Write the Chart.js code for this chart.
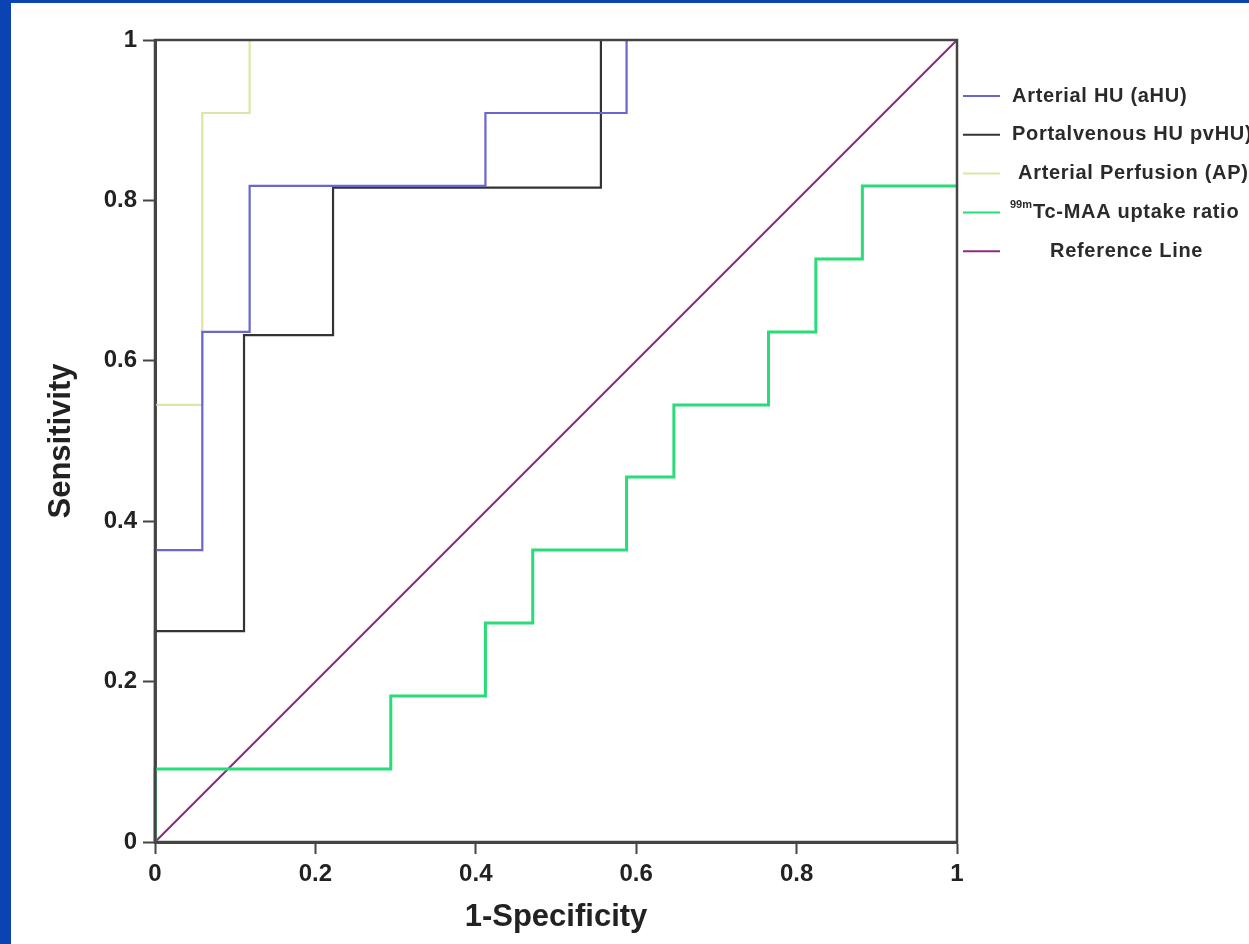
<!DOCTYPE html>
<html>
<head>
<meta charset="utf-8">
<script src="https://cdn.jsdelivr.net/npm/chart.js@4.4.1/dist/chart.umd.min.js"></script>
<style>
  html, body { margin: 0; padding: 0; background: #0b43b3; overflow: hidden; }
  #wrap { position: absolute; left: 11px; top: 3px; width: 1238px; height: 941px; background: #fff; }
</style>
</head>
<body>
<div id="wrap"><canvas id="rocChart"></canvas></div>
<script>
// tick values and labels (both axes)
const tickValues = [0, 0.2, 0.4, 0.6, 0.8, 1];
const tickLabels = ['0', '0.2', '0.4', '0.6', '0.8', '1'];

// ROC corner points: 1-specificity / sensitivity
const fprAHU = [0, 0, 0.059, 0.118, 0.412, 0.588, 1];
const tprAHU = [0, 0.364, 0.636, 0.818, 0.909, 1, 1];

const fprPVHU = [0, 0, 0.111, 0.222, 0.556, 1];
const tprPVHU = [0, 0.263, 0.632, 0.816, 1, 1];

const fprAP = [0, 0, 0.059, 0.118, 1];
const tprAP = [0, 0.545, 0.909, 1, 1];

const fprMAA = [0, 0, 0.294, 0.412, 0.471, 0.588, 0.647, 0.765, 0.824, 0.882, 1];
const tprMAA = [0, 0.091, 0.182, 0.273, 0.364, 0.455, 0.545, 0.636, 0.727, 0.818, 0.818];

const fprRef = [0, 1];
const tprRef = [0, 1];

const seriesNames = ['Arterial HU (aHU)', 'Portalvenous HU pvHU)', 'Arterial Perfusion (AP)', '99mTc-MAA uptake ratio', 'Reference Line'];

function pts(xs, ys) {
    return xs.map((x, i) => ({ x: x, y: ys[i] }));
}

const FONT = 'Liberation Sans, Arial, sans-serif';

// legend drawn by hand (superscript "99m")
const legendPlugin = {
    id: 'rocLegend',
    afterDraw(chart) {
        const ctx = chart.ctx;
        const textX = [1001, 1001, 1007, 999, 1039];
        const y0 = 93, gap = 38.8;
        ctx.save();
        chart.data.datasets.forEach((ds, i) => {
            const y = y0 + i * gap;
            ctx.strokeStyle = ds.borderColor;
            ctx.lineWidth = 2;
            ctx.beginPath();
            ctx.moveTo(952, y);
            ctx.lineTo(989, y);
            ctx.stroke();
            ctx.fillStyle = '#2a2a2a';
            ctx.textBaseline = 'middle';
            let x = textX[i];
            let label = ds.label;
            if (label.startsWith('99m')) {
                ctx.letterSpacing = '0px';
                ctx.font = 'bold 11px ' + FONT;
                ctx.fillText('99m', x, y - 7);
                x += ctx.measureText('99m').width + 1;
                label = label.slice(3);
            }
            ctx.letterSpacing = '0.7px';
            ctx.font = 'bold 20px ' + FONT;
            ctx.fillText(label, x, y);
        });
        ctx.restore();
    }
};

// box round the plot area, drawn over the curves like the original
const framePlugin = {
    id: 'frame',
    afterDatasetsDraw(chart) {
        const a = chart.chartArea;
        const ctx = chart.ctx;
        ctx.save();
        ctx.strokeStyle = '#444';
        ctx.lineWidth = 2.5;
        ctx.strokeRect(a.left, a.top, a.right - a.left, a.bottom - a.top);
        ctx.restore();
    }
};

const colors = ['#6a66cf', '#333333', '#dfe5a6', '#28dc78', '#8e2c84'];
const xs = [fprAHU, fprPVHU, fprAP, fprMAA, fprRef];
const ys = [tprAHU, tprPVHU, tprAP, tprMAA, tprRef];

const datasets = seriesNames.map((name, i) => ({
    label: name,
    data: pts(xs[i], ys[i]),
    borderColor: colors[i],
    backgroundColor: colors[i],
    borderWidth: i === 3 ? 3 : 2.2,
    pointRadius: 0,
    stepped: i === 4 ? false : 'before',
    fill: false,
    clip: false
}));

function axisCfg(title, titlePad) {
    return {
        type: 'linear',
        min: 0,
        max: 1,
        afterBuildTicks(axis) { axis.ticks = tickValues.map(v => ({ value: v })); },
        ticks: {
            callback: (v, i) => tickLabels[i],
            color: '#222',
            font: { family: FONT, size: 24, weight: 'bold' },
            padding: 6,
            autoSkip: false,
            maxRotation: 0
        },
        grid: { drawOnChartArea: false, drawTicks: true, tickLength: 12, tickColor: '#444', tickWidth: 2 },
        border: { display: true, color: '#444', width: 3 },
        title: { display: true, text: title, color: '#222', font: { family: FONT, size: 31, weight: 'bold' }, padding: titlePad }
    };
}

const xAxis = axisCfg('1-Specificity', { top: 0, bottom: 8 });
xAxis.afterFit = axis => { axis.height = 102; };
const yAxis = axisCfg('Sensitivity', { top: 32, bottom: 0 });
yAxis.afterFit = axis => { axis.width = 144; };

new Chart(document.getElementById('rocChart').getContext('2d'), {
    type: 'line',
    data: { datasets: datasets },
    options: {
        responsive: true,
        maintainAspectRatio: false,
        animation: false,
        layout: { padding: { top: 37, right: 292, bottom: 0, left: 0 } },
        plugins: { legend: { display: false }, tooltip: { enabled: false } },
        scales: { x: xAxis, y: yAxis }
    },
    plugins: [framePlugin, legendPlugin]
});
</script>
</body>
</html>
